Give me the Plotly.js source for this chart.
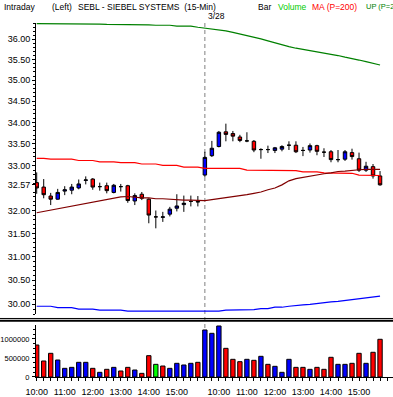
<!DOCTYPE html>
<html>
<head>
<meta charset="utf-8">
<script src="https://cdn.plot.ly/plotly-3.0.1.min.js"></script>
<style>
html,body{margin:0;padding:0;background:#fff;}
#chart{width:393px;height:397px;}
</style>
</head>
<body>
<div id="chart"></div>
<script>
// ---- Data (15-min bars, SEBL) ----
const barTimes = [
  '10:00','10:15','10:30','10:45','11:00','11:15','11:30','11:45','12:00','12:15','12:30','12:45',
  '13:00','13:15','13:30','13:45','14:00','14:15','14:30','14:45','15:00','15:15','15:30','15:45',
  '9:30','9:45','10:00','10:15','10:30','10:45','11:00','11:15','11:30','11:45','12:00','12:15','12:30','12:45',
  '13:00','13:15','13:30','13:45','14:00','14:15','14:30','14:45','15:00','15:15','15:30','15:45'
];
const sessionLabel = '3/28';

const opens  = [32.62,32.52,32.32,32.25,32.43,32.45,32.50,32.67,32.70,32.53,32.55,32.40,32.53,32.55,32.21,32.36,32.25,31.86,31.85,31.92,32.05,32.13,32.20,32.20,
                32.79,33.23,33.44,33.78,33.74,33.66,33.57,33.56,33.37,33.37,33.35,33.38,33.47,33.47,33.35,33.36,33.46,33.31,33.32,33.14,33.15,33.30,33.16,32.90,32.98,32.77];
const highs  = [32.85,32.70,32.39,32.48,32.54,32.59,32.69,32.76,32.72,32.62,32.62,32.59,32.59,32.57,32.38,32.41,32.27,32.00,31.97,32.08,32.36,32.33,32.33,32.32,
                33.32,33.57,33.80,33.97,33.80,33.71,33.77,33.59,33.40,33.46,33.43,33.47,33.56,33.56,33.43,33.51,33.48,33.40,33.36,33.36,33.36,33.39,33.30,33.09,33.04,32.88];
const lows   = [32.37,32.27,32.12,32.24,32.34,32.36,32.47,32.58,32.46,32.44,32.38,32.38,32.42,32.17,32.12,32.23,31.72,31.61,31.75,31.87,31.98,31.97,32.09,32.09,
                32.75,33.20,33.42,33.56,33.56,33.54,33.54,33.31,33.16,33.29,33.29,33.33,33.36,33.29,33.22,33.30,33.24,33.20,33.08,33.08,33.11,33.14,32.86,32.86,32.71,32.55];
const closes = [32.50,32.35,32.25,32.40,32.46,32.52,32.59,32.68,32.52,32.53,32.44,32.56,32.53,32.22,32.33,32.27,31.90,31.86,31.86,32.03,32.10,32.16,32.20,32.19,
                33.19,33.40,33.77,33.72,33.68,33.58,33.57,33.36,33.37,33.37,33.41,33.44,33.47,33.32,33.35,33.46,33.33,33.31,33.14,33.14,33.32,33.21,32.90,32.99,32.77,32.57];

const volumes = [842000,421000,623000,447000,228000,254000,386000,386000,228000,123000,202000,254000,158000,254000,184000,96000,561000,333000,289000,228000,360000,316000,360000,386000,
                 1237000,1149000,1342000,754000,465000,403000,465000,439000,544000,333000,281000,123000,465000,254000,254000,202000,254000,202000,518000,333000,333000,360000,623000,360000,650000,992000];
const volumeColors = ['#ff0000','#ff0000','#ff0000','#0000ff','#0000ff','#0000ff','#0000ff','#0000ff','#ff0000','#0000ff','#ff0000','#0000ff','#ff0000','#ff0000','#0000ff','#ff0000','#ff0000','#00ff00','#ff0000','#0000ff','#0000ff','#0000ff','#0000ff','#ff0000',
                      '#0000ff','#0000ff','#0000ff','#ff0000','#ff0000','#ff0000','#0000ff','#ff0000','#0000ff','#ff0000','#0000ff','#0000ff','#0000ff','#ff0000','#ff0000','#0000ff','#ff0000','#ff0000','#ff0000','#0000ff','#0000ff','#ff0000','#ff0000','#0000ff','#ff0000','#ff0000'];

const upperBand = [36.39,36.39,36.39,36.39,36.39,36.38,36.38,36.38,36.38,36.38,36.37,36.37,36.37,36.37,36.36,36.36,36.36,36.35,36.35,36.35,36.33,36.33,36.33,36.30,
                   36.28,36.26,36.23,36.21,36.17,36.13,36.09,36.06,36.01,35.96,35.91,35.86,35.82,35.78,35.75,35.72,35.70,35.66,35.63,35.60,35.56,35.53,35.49,35.45,35.41,35.37];
const lowerBand = [29.96,29.96,29.96,29.93,29.93,29.93,29.90,29.90,29.90,29.88,29.88,29.88,29.88,29.86,29.86,29.86,29.86,29.86,29.86,29.86,29.86,29.86,29.86,29.86,
                   29.86,29.86,29.86,29.88,29.88,29.88,29.89,29.89,29.91,29.91,29.94,29.94,29.96,29.98,29.99,30.00,30.02,30.03,30.05,30.06,30.08,30.10,30.12,30.14,30.16,30.17];
const ma200 = [33.17,33.17,33.15,33.15,33.15,33.15,33.12,33.12,33.12,33.09,33.09,33.09,33.07,33.07,33.07,33.04,33.04,33.04,33.01,33.01,33.01,32.97,32.97,32.97,
               32.94,32.94,32.94,32.94,32.94,32.94,32.90,32.90,32.90,32.90,32.89,32.89,32.89,32.89,32.86,32.86,32.86,32.84,32.84,32.83,32.83,32.83,32.79,32.79,32.78,32.78];
const maShort = [31.95,31.98,32.01,32.03,32.07,32.09,32.12,32.15,32.18,32.21,32.24,32.27,32.30,32.31,32.29,32.28,32.28,32.26,32.26,32.25,32.23,32.23,32.23,32.22,
                 32.22,32.24,32.26,32.28,32.30,32.32,32.35,32.38,32.41,32.46,32.50,32.57,32.66,32.71,32.74,32.76,32.79,32.82,32.84,32.87,32.88,32.90,32.91,32.92,32.92,32.92];

const priceTickLabels = ['30.00','30.50','31.00','31.50','32.00','32.50','33.00','33.50','34.00','34.50','35.00','35.50','36.00'];
const volumeTickLabels = ['0','500000','1000000'];

// ---- Build ----
const idx = barTimes.map((t, i) => i);
const breakIdx = barTimes.indexOf('9:30');
const xTickVals = [], xTickText = [];
barTimes.forEach((t, i) => { if (t.endsWith(':00')) { xTickVals.push(i); xTickText.push(t); } });

const lastPrice = closes[closes.length - 1];
const pTickVals = priceTickLabels.map(Number).filter(v => Math.abs(v - lastPrice) > 0.3).concat([lastPrice]);
const pTickText = pTickVals.map(v => v.toFixed(2));
const pMinor = [];
for (let k = 298; k <= 364; k++) { if (k % 5 !== 0) pMinor.push(k / 10); }

const font = 'Liberation Sans, Arial, sans-serif';
const lineTrace = (y, color) => ({
  type: 'scatter', mode: 'lines', x: idx, y: y, xaxis: 'x', yaxis: 'y',
  line: {color: color, width: 1.2}, hoverinfo: 'skip', showlegend: false
});

const traces = [
  lineTrace(upperBand, '#008000'),
  lineTrace(lowerBand, '#0000ff'),
  lineTrace(ma200, '#ff0000'),
  lineTrace(maShort, '#800000'),
  {
    type: 'candlestick', x: idx, open: opens, high: highs, low: lows, close: closes,
    xaxis: 'x', yaxis: 'y', whiskerwidth: 0,
    increasing: {line: {color: '#000000', width: 1}, fillcolor: '#0000ff'},
    decreasing: {line: {color: '#000000', width: 1}, fillcolor: '#ff0000'},
    showlegend: false, hoverinfo: 'skip'
  },
  {
    type: 'bar', x: idx, y: volumes, xaxis: 'x', yaxis: 'y2', width: 0.62,
    marker: {color: volumeColors, line: {color: '#000000', width: 1}},
    showlegend: false, hoverinfo: 'skip'
  }
];

const hdr = (text, X, color, yshift, size) => ({
  text: text, xref: 'paper', yref: 'paper', x: 0, y: 1, xanchor: 'left', yanchor: 'middle',
  xshift: X - 36, yshift: yshift, showarrow: false, font: {family: font, size: size || 8.5, color: color}
});

const layout = {
  width: 393, height: 397,
  margin: {l: 36, r: 0, t: 23, b: 20, pad: 0},
  paper_bgcolor: '#ffffff', plot_bgcolor: '#ffffff',
  showlegend: false, bargap: 0,
  xaxis: {
    type: 'linear', range: [-0.1, 50.85], anchor: 'y2',
    rangeslider: {visible: false},
    showgrid: false, zeroline: false,
    showline: true, linecolor: '#000000', linewidth: 1,
    tickmode: 'array', tickvals: xTickVals, ticktext: xTickText,
    ticks: 'outside', ticklen: 3, tickcolor: '#000000', ticklabelstandoff: 3,
    minor: {tickmode: 'linear', tick0: 0, dtick: 1, ticks: 'outside', ticklen: 3, tickcolor: '#000000', showgrid: false},
    tickfont: {family: font, size: 9, color: '#000000'}
  },
  yaxis: {
    type: 'log', domain: [0.1771, 1], range: [1.474133, 1.561173],
    showgrid: false, zeroline: false,
    showline: true, linecolor: '#000000', linewidth: 1,
    tickmode: 'array', tickvals: pTickVals, ticktext: pTickText,
    ticks: 'outside', ticklen: 3, tickcolor: '#000000',
    minor: {tickmode: 'array', tickvals: pMinor, ticks: 'outside', ticklen: 2, tickcolor: '#000000', showgrid: false},
    tickfont: {family: font, size: 9, color: '#000000'}
  },
  yaxis2: {
    domain: [0, 0.1469], range: [0, 1368000], anchor: 'x',
    showgrid: false, zeroline: false,
    showline: true, linecolor: '#000000', linewidth: 1,
    tickmode: 'array', tickvals: volumeTickLabels.map(Number), ticktext: volumeTickLabels,
    ticks: 'outside', ticklen: 3, tickcolor: '#000000', ticklabelstandoff: 1,
    minor: {tickmode: 'linear', tick0: 0, dtick: 125000, ticks: 'outside', ticklen: 2, tickcolor: '#000000', showgrid: false},
    tickfont: {family: font, size: 7.5, color: '#000000'}
  },
  shapes: [
    {type: 'line', xref: 'x', yref: 'paper', x0: breakIdx, x1: breakIdx, y0: 0, y1: 1, layer: 'below',
     line: {color: '#808080', width: 1, dash: '4px,3px'}},
    {type: 'line', xref: 'paper', yref: 'paper', x0: -0.11, x1: 1, y0: 0.1653, y1: 0.1653, line: {color: '#000000', width: 1}},
    {type: 'line', xref: 'paper', yref: 'paper', x0: -0.11, x1: 1, y0: 0.1588, y1: 0.1588, line: {color: '#000000', width: 2}}
  ],
  annotations: [
    hdr('Intraday', 2, '#000000', 16.5),
    hdr('(Left)', 50, '#000000', 16.5),
    hdr('SEBL - SIEBEL SYSTEMS\u00a0\u00a0(15-Min)', 76, '#000000', 16.5),
    hdr('Bar', 256, '#000000', 16.5),
    hdr('Volume', 276, '#00cc00', 16.5),
    hdr('MA (P=200)', 310, '#ff0000', 16.5),
    hdr('UP (P=2', 364, '#008000', 16.5, 7.5),
    {text: sessionLabel, xref: 'x', yref: 'paper', x: breakIdx, y: 1, xanchor: 'left', yanchor: 'middle',
     xshift: 1, yshift: 7.5, showarrow: false, font: {family: font, size: 8.5, color: '#000000'}}
  ]
};

Plotly.newPlot('chart', traces, layout, {displayModeBar: false, staticPlot: true});
</script>
</body>
</html>
